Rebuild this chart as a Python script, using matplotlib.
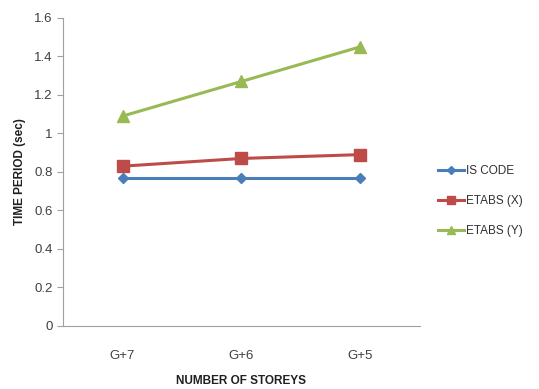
import matplotlib.pyplot as plt

plt.rcParams['font.family'] = ['Liberation Sans Narrow', 'Liberation Sans', 'DejaVu Sans']

storeys = ['G+7', 'G+6', 'G+5']
is_code = [0.77, 0.77, 0.77]
etabs_x = [0.83, 0.87, 0.89]
etabs_y = [1.09, 1.27, 1.45]

fig = plt.figure(figsize=(5.39, 3.89), dpi=100)
ax = fig.add_axes([0.117, 0.162, 0.662, 0.792])

x = range(len(storeys))
ax.plot(x, is_code, color='#4a7ebb', lw=2.2, marker='D', ms=5, label='IS CODE')
ax.plot(x, etabs_x, color='#be4b48', lw=2.2, marker='s', ms=8, label='ETABS (X)')
ax.plot(x, etabs_y, color='#98b954', lw=2.2, marker='^', ms=8, label='ETABS (Y)')

ax.set_xlim(-0.5, 2.5)
ax.set_ylim(0, 1.6)
ax.set_xticks(list(x))
ax.set_xticklabels(storeys)
ax.set_yticks([0, 0.2, 0.4, 0.6, 0.8, 1.0, 1.2, 1.4, 1.6])
ax.set_yticklabels(['0', '0.2', '0.4', '0.6', '0.8', '1', '1.2', '1.4', '1.6'])

for s in ['top', 'right']:
    ax.spines[s].set_visible(False)
for s in ['left', 'bottom']:
    ax.spines[s].set_color('#a0a0a0')
ax.tick_params(axis='y', colors='#a0a0a0', labelcolor='#404040', labelsize=9.5, length=4)
ax.tick_params(axis='x', length=0, labelcolor='#404040', labelsize=9.5, pad=17)

ax.set_xlabel('NUMBER OF STOREYS', fontsize=8.5, fontweight='bold', color='#202020', labelpad=10)
ax.set_ylabel('TIME PERIOD (sec)', fontsize=8.5, fontweight='bold', color='#202020', labelpad=6)

ax.legend(loc='center left', bbox_to_anchor=(1.02, 0.405), frameon=False, fontsize=8.5,
          labelcolor='#303030', handlelength=2.2, handletextpad=0.2, labelspacing=1.5,
          markerscale=0.75)

plt.savefig('out.png', dpi=100)
